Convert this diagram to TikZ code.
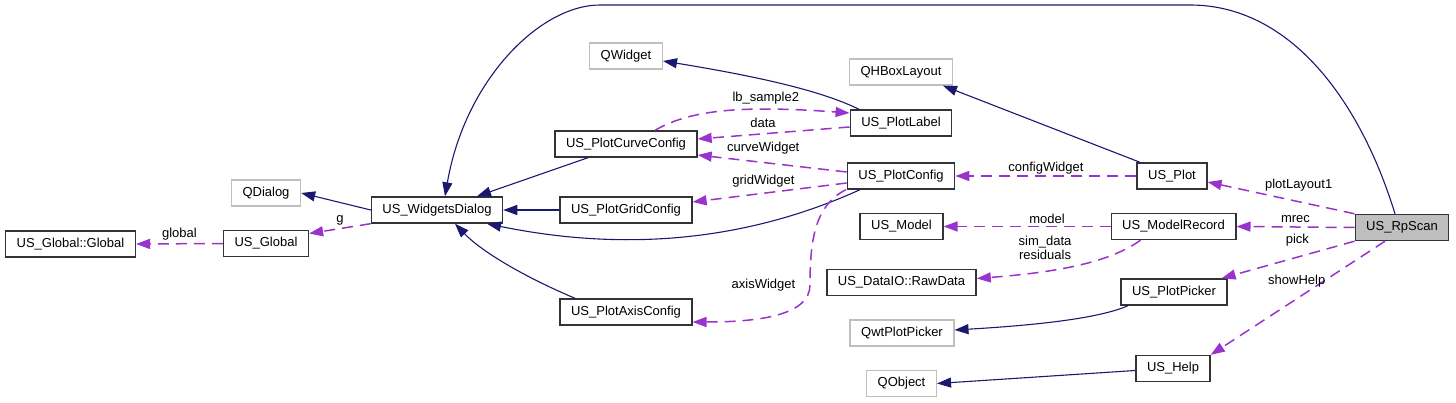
\documentclass[tikz,border=0pt]{standalone}
\usepackage{fontspec}
\setmainfont{Liberation Sans}
\usetikzlibrary{arrows.meta}
\definecolor{navy}{HTML}{191970}
\definecolor{orchid}{HTML}{9A32CD}
\begin{document}
\begin{tikzpicture}[x=1pt,y=-1pt,
  >={Triangle[length=14pt,width=10pt]},
  cls/.style={draw=black!80,line width=1.4pt,font=\fontsize{13}{14}\selectfont,inner xsep=11pt,inner ysep=0pt,minimum height=26pt},
  ext/.style={cls,draw=black!25},
  inh/.style={->,navy,line width=1.1pt},
  use/.style={->,orchid,line width=1.5pt,dash pattern=on 11pt off 7pt},
  lbl/.style={font=\fontsize{13}{14}\selectfont,inner sep=2pt,text=black,align=center}]
\useasboundingbox (0,0) rectangle (1456,403);

\node[cls] (GG) at (70.5,244) {US\_Global::Global};
\node[cls] (UG) at (266,243.5) {US\_Global};
\node[ext] (QD) at (266,193) {QDialog};
\node[cls] (WD) at (437,210) {US\_WidgetsDialog};
\node[cls] (CC) at (626,144) {US\_PlotCurveConfig};
\node[cls] (GC) at (626,210) {US\_PlotGridConfig};
\node[cls] (AC) at (626,312) {US\_PlotAxisConfig};
\node[ext] (QW) at (626,56) {QWidget};
\node[cls] (PL) at (901,123) {US\_PlotLabel};
\node[cls] (PC) at (901,176) {US\_PlotConfig};
\node[ext] (QH) at (901,72) {QHBoxLayout};
\node[cls] (MO) at (901.5,226.5) {US\_Model};
\node[cls] (RD) at (901.5,282.5) {US\_DataIO::RawData};
\node[ext] (QP) at (902,333) {QwtPlotPicker};
\node[ext] (QO) at (901.5,383.5) {QObject};
\node[cls] (PT) at (1172,176) {US\_Plot};
\node[cls] (MR) at (1173.5,226.5) {US\_ModelRecord};
\node[cls] (PP) at (1174,292) {US\_PlotPicker};
\node[cls] (HE) at (1173,368.5) {US\_Help};
\node[cls,fill=black!25] (RS) at (1402,227.5) {US\_RpScan};

\draw[inh] (WD.west) -- (QD.east);
\draw[inh] ([xshift=-38pt]CC.south) -- ([xshift=40pt]WD.north);
\draw[inh] (GC.west) -- (WD.east);
\draw[inh] ([xshift=-41pt]PC.south) .. controls (760,235) and (640,255) .. ([xshift=50pt]WD.south);
\draw[inh] ([xshift=-51pt]AC.north) .. controls (520,275) and (480,250) .. ([xshift=18pt]WD.south);
\draw[inh] ([xshift=-7pt]RS.north) .. controls (1360,100) and (1290,5) .. (1190,5) -- (600,5) .. controls (540,5) and (465,80) .. ([xshift=8pt]WD.north);
\draw[inh] ([xshift=-42pt]PL.north) .. controls (830,95) and (780,80) .. ([yshift=-5pt]QW.east);
\draw[inh] ([xshift=-32pt]PT.north) -- ([xshift=42pt]QH.south);
\draw[inh] ([xshift=-46pt]PP.south) .. controls (1100,318) and (1040,325) .. ([yshift=3pt]QP.east);
\draw[inh] ([yshift=-2pt]HE.west) -- (QO.east);

\draw[use] (UG.west) -- node[lbl,above=1pt] (Lglobal) {global} (GG.east);
\draw[use] (WD.south west) -- node[lbl,above=1pt] (Lg) {g} ([yshift=10pt]UG.east);
\draw[use] ([xshift=29pt]CC.north) .. controls (690,110) and (740,105) .. node[lbl,above=2pt,pos=0.7] (Llb) {lb\_sample2} ([yshift=10pt]PL.west);
\draw[use] ([yshift=-4pt]PL.west) -- node[lbl,above=3pt,pos=0.57] (Ldata) {data} ([yshift=5pt]CC.east);
\draw[use] ([yshift=4pt]PC.west) -- node[lbl,above=5.5pt,pos=0.56] (Lcurve) {curveWidget} ([yshift=-11pt]CC.east);
\draw[use] ([yshift=-7pt]PC.west) -- node[lbl,above=3.5pt,pos=0.54] (Lgrid) {gridWidget} ([yshift=8pt]GC.east);
\draw[use] ([xshift=-55pt]PC.south) .. controls (815,205) and (810,240) .. (810,285) node[lbl,left=12pt] (Laxis) {axisWidget} .. controls (810,315) and (760,322) .. ([yshift=-10pt]AC.east);
\draw[use] (PT.west) -- node[lbl,above=-1pt] (Lconfig) {configWidget} (PC.east);
\draw[use] (RS.north west) -- node[lbl,above=8pt,pos=0.38] (Lplot) {plotLayout1} ([yshift=-6pt]PT.east);
\draw[use] (RS.west) -- node[lbl,above=1.5pt] (Lmrec) {mrec} (MR.east);
\draw[use] (MR.west) -- node[lbl,above=0.5pt,pos=0.38] (Lmodel) {model} (MO.east);
\draw[use] ([xshift=-33pt]MR.south) .. controls (1110,262) and (1060,272) .. node[lbl,above=9pt,pos=0.69] (Lsim) {sim\_data\\residuals} ([yshift=4pt]RD.east);
\draw[use] (RS.south west) -- node[lbl,above=8pt,pos=0.43] (Lpick) {pick} ([xshift=-6pt]PP.north east);
\draw[use] ([xshift=-17pt]RS.south) -- node[lbl,left=-4pt,pos=0.35] (Lhelp) {showHelp} (HE.north east);
\end{tikzpicture}
\end{document}
